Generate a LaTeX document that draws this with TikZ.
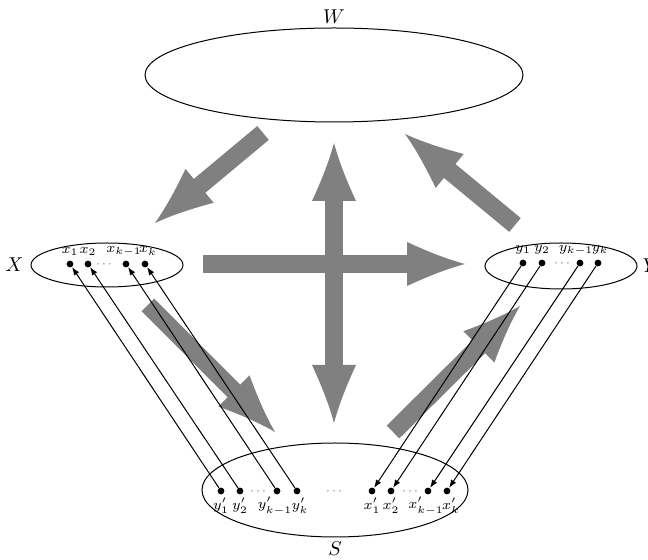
\documentclass[tikz,border=0pt]{standalone}
\usetikzlibrary{arrows.meta,shapes.geometric,positioning}
\pgfdeclarearrow{
  name = Concave,
  parameters = {\the\pgfarrowlength,\the\pgfarrowwidth},
  setup code = {
    \pgfarrowssettipend{\pgfarrowlength}
    \pgfarrowssetbackend{0pt}
    \pgfarrowssetlineend{1pt}
    \pgfarrowssavethe\pgfarrowlength
    \pgfarrowssavethe\pgfarrowwidth
  },
  drawing code = {
    \pgfpathmoveto{\pgfqpoint{\pgfarrowlength}{0pt}}
    \pgfpathcurveto{\pgfpoint{.66\pgfarrowlength}{.12\pgfarrowwidth}}{\pgfpoint{.33\pgfarrowlength}{.3\pgfarrowwidth}}{\pgfpoint{0pt}{.5\pgfarrowwidth}}
    \pgfpathlineto{\pgfpoint{0pt}{-.5\pgfarrowwidth}}
    \pgfpathcurveto{\pgfpoint{.33\pgfarrowlength}{-.3\pgfarrowwidth}}{\pgfpoint{.66\pgfarrowlength}{-.12\pgfarrowwidth}}{\pgfqpoint{\pgfarrowlength}{0pt}}
    \pgfpathclose
    \pgfusepathqfill
  },
  defaults = {length=29pt, width=22pt}
}
\begin{document}
\begin{tikzpicture}[x=0.5pt,y=0.5pt,
  ell/.style={draw, ellipse, line width=0.5pt, inner sep=0pt},
  dot/.style={circle, fill, inner sep=0pt, minimum size=3.4pt},
  lab/.style={font=\scriptsize, inner sep=0pt},
  dts/.style={font=\tiny, inner sep=0pt, scale=0.85},
  bigarrow/.style={draw=gray, line width=9pt, line cap=butt, -{Concave}},
  bigdouble/.style={draw=gray, line width=9pt, line cap=butt, {Concave}-{Concave}},
  thinarrow/.style={line width=0.5pt, -{Latex[length=4pt,width=3pt]}}]
\useasboundingbox (0,0) rectangle (648,-560);

% ellipses
\node[ell, minimum width=189pt, minimum height=47pt] (W) at (334,-75) {};
\node[ell, minimum width=76pt, minimum height=22pt] (X) at (107,-265) {};
\node[ell, minimum width=76pt, minimum height=23pt] (Y) at (561,-266) {};
\node[ell, minimum width=133pt, minimum height=47pt] (S) at (335,-490) {};
\node (Wl) at (334,-17) {$W$};
\node[left=0pt of X] (Xl) {$X$};
\node[right=-1pt of Y] (Yl) {$Y$};
\node (Sl) at (335,-549) {$S$};

% big gray arrows
\coordinate (a1s) at (263,-133); \coordinate (a1e) at (155,-223);
\coordinate (a2s) at (334,-143); \coordinate (a2e) at (334,-423);
\coordinate (a3s) at (203,-264); \coordinate (a3e) at (465,-264);
\coordinate (a4s) at (515,-225); \coordinate (a4e) at (405,-134);
\coordinate (a5s) at (148,-305); \coordinate (a5e) at (275,-432);
\coordinate (a6s) at (393,-432); \coordinate (a6e) at (520,-306);
\draw[bigarrow] (a1s) -- (a1e);
\draw[bigdouble] (a2s) -- (a2e);
\draw[bigarrow] (a3s) -- (a3e);
\draw[bigarrow] (a4s) -- (a4e);
\draw[bigarrow] (a5s) -- (a5e);
\draw[bigarrow] (a6s) -- (a6e);

% X dots
\node[dot] (x1) at (70,-264) {};
\node[dot] (x2) at (88,-264) {};
\node[dts] (xd) at (104,-264) {$\cdots$};
\node[dot] (xk1) at (126,-264) {};
\node[dot] (xk) at (145,-264) {};
\node[lab] (lx1) at (70,-251) {$x_1$};
\node[lab] (lx2) at (88,-251) {$x_2$};
\node[lab] (lxk1) at (124,-251) {$x_{k-1}$};
\node[lab] (lxk) at (148,-251) {$x_k$};

% Y dots
\node[dot] (y1) at (523,-263) {};
\node[dot] (y2) at (542,-263) {};
\node[dts] (yd) at (562,-263) {$\cdots$};
\node[dot] (yk1) at (580,-263) {};
\node[dot] (yk) at (598,-263) {};
\node[lab] (ly1) at (523,-250) {$y_1$};
\node[lab] (ly2) at (542,-250) {$y_2$};
\node[lab] (lyk1) at (576,-250) {$y_{k-1}$};
\node[lab] (lyk) at (600,-250) {$y_k$};

% S dots
\node[dot] (sy1) at (221,-491) {};
\node[dot] (sy2) at (240,-491) {};
\node[dts] (syd) at (258,-491) {$\cdots$};
\node[dot] (syk1) at (277,-491) {};
\node[dot] (syk) at (297,-491) {};
\node[dts] (smid) at (334,-491) {$\cdots$};
\node[dot] (sx1) at (372,-491) {};
\node[dot] (sx2) at (391,-491) {};
\node[dts] (sxd) at (410,-491) {$\cdots$};
\node[dot] (sxk1) at (428,-491) {};
\node[dot] (sxk) at (447,-491) {};
\node[lab] (lsy1) at (221,-506) {$y'_1$};
\node[lab] (lsy2) at (240,-506) {$y'_2$};
\node[lab] (lsyk1) at (275,-506) {$y'_{k-1}$};
\node[lab] (lsyk) at (300,-506) {$y'_k$};
\node[lab] (lsx1) at (372,-506) {$x'_1$};
\node[lab] (lsx2) at (391,-506) {$x'_2$};
\node[lab] (lsxk1) at (426,-506) {$x'_{k-1}$};
\node[lab] (lsxk) at (451,-506) {$x'_k$};

% thin arrows
\draw[thinarrow] (sy1) -- (x1);
\draw[thinarrow] (sy2) -- (x2);
\draw[thinarrow] (syk1) -- (xk1);
\draw[thinarrow] (syk) -- (xk);
\draw[thinarrow] (y1) -- (sx1);
\draw[thinarrow] (y2) -- (sx2);
\draw[thinarrow] (yk1) -- (sxk1);
\draw[thinarrow] (yk) -- (sxk);
\end{tikzpicture}
\end{document}
